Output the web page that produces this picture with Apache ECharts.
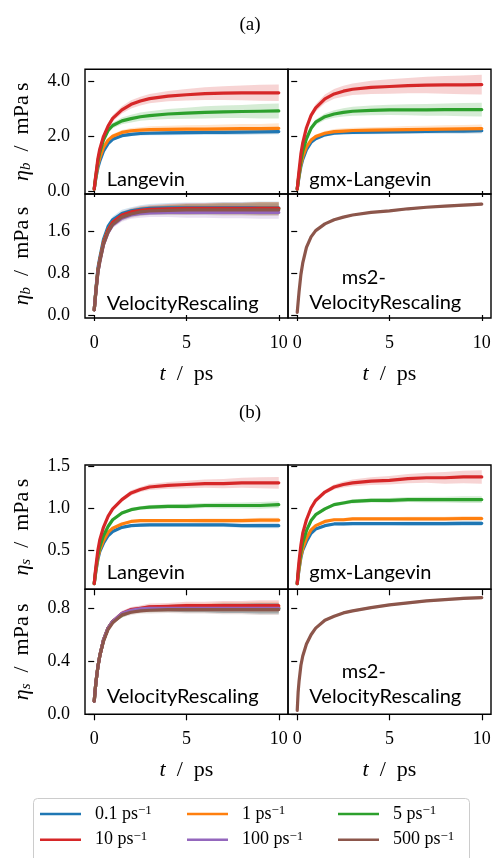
<!DOCTYPE html>
<html><head><meta charset="utf-8">
<script src="https://cdn.jsdelivr.net/npm/echarts@6/dist/echarts.min.js"></script>
<style>html,body{margin:0;padding:0;background:#fff}#c{width:494px;height:858px}</style>
</head><body><div id="c"></div>
<script>
// ---------------- data ----------------
const T = [0,0.05,0.1,0.2,0.3,0.5,0.75,1,1.5,2,2.5,3,4,5,6,7,8,9,10];
const xTicks = [0,5,10];
const aTopTicks = [0,2,4];
const aBotTicks = [0,0.8,1.6];
const bTopTicks = [0.5,1.0,1.5];
const bBotTicks = [0,0.4,0.8];
const legendNames = ['0.1','1','5','10','100','500'];

// (a) bulk viscosity, Langevin
const aLangBlue   = [0.07,0.30,0.50,0.85,1.08,1.45,1.72,1.88,2.01,2.06,2.09,2.10,2.11,2.12,2.13,2.13,2.14,2.15,2.16];
const aLangOrange = [0.07,0.32,0.55,0.95,1.20,1.58,1.85,1.99,2.13,2.19,2.21,2.23,2.24,2.25,2.25,2.26,2.27,2.27,2.28];
const aLangGreen  = [0.07,0.35,0.60,1.08,1.40,1.85,2.20,2.38,2.55,2.63,2.70,2.74,2.80,2.83,2.86,2.88,2.89,2.90,2.91];
const aLangRed    = [0.07,0.38,0.65,1.18,1.52,1.98,2.36,2.64,2.95,3.15,3.27,3.36,3.45,3.50,3.54,3.56,3.57,3.57,3.57];
const aLangBlueSd   = [0,0.01,0.01,0.02,0.03,0.04,0.05,0.05,0.06,0.06,0.07,0.07,0.08,0.08,0.09,0.09,0.10,0.10,0.10];
const aLangOrangeSd = [0,0.01,0.02,0.03,0.04,0.06,0.07,0.08,0.09,0.10,0.11,0.12,0.13,0.14,0.15,0.16,0.17,0.17,0.18];
const aLangGreenSd  = [0,0.01,0.02,0.04,0.05,0.07,0.09,0.10,0.12,0.14,0.15,0.16,0.18,0.20,0.22,0.23,0.24,0.26,0.27];
const aLangRedSd    = [0,0.01,0.02,0.04,0.06,0.08,0.10,0.11,0.13,0.15,0.16,0.17,0.19,0.21,0.23,0.25,0.27,0.29,0.30];
// (a) gmx-Langevin
const aGmxBlue   = [0.07,0.30,0.52,0.90,1.15,1.50,1.77,1.90,2.04,2.10,2.12,2.13,2.14,2.15,2.16,2.17,2.18,2.18,2.19];
const aGmxOrange = [0.07,0.33,0.56,0.97,1.25,1.60,1.85,1.98,2.10,2.16,2.18,2.20,2.21,2.22,2.23,2.24,2.25,2.26,2.27];
const aGmxGreen  = [0.07,0.36,0.62,1.10,1.45,1.90,2.28,2.50,2.70,2.80,2.86,2.90,2.93,2.95,2.95,2.95,2.96,2.96,2.96];
const aGmxRed    = [0.07,0.42,0.75,1.35,1.75,2.30,2.75,3.02,3.35,3.53,3.63,3.70,3.77,3.80,3.83,3.85,3.86,3.86,3.87];
const aGmxBlueSd   = [0,0.01,0.01,0.02,0.03,0.04,0.05,0.05,0.06,0.06,0.07,0.07,0.08,0.08,0.09,0.09,0.10,0.10,0.10];
const aGmxOrangeSd = [0,0.01,0.01,0.02,0.03,0.05,0.06,0.07,0.08,0.09,0.10,0.10,0.11,0.12,0.13,0.13,0.14,0.14,0.15];
const aGmxGreenSd  = [0,0.01,0.02,0.03,0.05,0.07,0.09,0.10,0.12,0.14,0.15,0.16,0.18,0.19,0.20,0.21,0.22,0.24,0.25];
const aGmxRedSd    = [0,0.01,0.02,0.04,0.06,0.09,0.11,0.13,0.16,0.18,0.20,0.21,0.24,0.26,0.28,0.30,0.32,0.34,0.36];
// (a) VelocityRescaling
const aVrBlue   = [0.10,0.32,0.53,0.90,1.10,1.45,1.70,1.83,1.95,2.00,2.03,2.05,2.06,2.06,2.06,2.06,2.06,2.06,2.06];
const aVrOrange = [0.10,0.30,0.50,0.86,1.06,1.40,1.64,1.78,1.91,1.97,2.00,2.02,2.03,2.03,2.04,2.04,2.04,2.05,2.05];
const aVrGreen  = [0.10,0.30,0.50,0.85,1.05,1.38,1.62,1.77,1.90,1.96,1.99,2.01,2.02,2.03,2.03,2.04,2.04,2.04,2.04];
const aVrRed    = [0.10,0.30,0.50,0.85,1.05,1.38,1.63,1.78,1.92,1.98,2.01,2.03,2.04,2.05,2.05,2.05,2.05,2.05,2.05];
const aVrPurple = [0.10,0.29,0.48,0.82,1.02,1.35,1.58,1.73,1.86,1.92,1.95,1.96,1.97,1.97,1.97,1.97,1.97,1.97,1.97];
const aVrBrown  = [0.10,0.29,0.48,0.82,1.02,1.35,1.59,1.74,1.88,1.94,1.98,2.00,2.01,2.02,2.02,2.02,2.02,2.02,2.02];
const aVrSd     = [0,0.01,0.02,0.03,0.04,0.05,0.06,0.06,0.07,0.07,0.08,0.08,0.09,0.10,0.10,0.11,0.11,0.12,0.12];
// (a) ms2-VelocityRescaling
const aMs2Brown = [0.05,0.25,0.45,0.78,1.00,1.30,1.50,1.62,1.75,1.83,1.88,1.92,1.97,2.00,2.04,2.07,2.09,2.11,2.13];
const aMs2Sd    = [0,0,0.005,0.01,0.01,0.01,0.01,0.015,0.015,0.015,0.02,0.02,0.02,0.02,0.025,0.025,0.025,0.03,0.03];

// (b) shear viscosity, Langevin
const bLangBlue   = [0.10,0.18,0.26,0.39,0.48,0.58,0.67,0.72,0.77,0.79,0.795,0.80,0.80,0.80,0.80,0.80,0.79,0.79,0.79];
const bLangOrange = [0.10,0.19,0.27,0.41,0.50,0.61,0.71,0.76,0.81,0.84,0.85,0.85,0.85,0.85,0.85,0.85,0.85,0.855,0.855];
const bLangGreen  = [0.10,0.20,0.29,0.44,0.54,0.67,0.78,0.86,0.94,0.98,1.00,1.01,1.02,1.02,1.03,1.03,1.03,1.03,1.04];
const bLangRed    = [0.10,0.22,0.32,0.50,0.62,0.77,0.90,0.99,1.10,1.18,1.22,1.25,1.27,1.28,1.29,1.29,1.30,1.30,1.30];
const bLangBlueSd   = [0,0,0.005,0.005,0.01,0.01,0.01,0.015,0.015,0.015,0.02,0.02,0.02,0.02,0.025,0.025,0.025,0.03,0.03];
const bLangOrangeSd = [0,0,0.005,0.005,0.01,0.01,0.01,0.015,0.015,0.015,0.02,0.02,0.02,0.02,0.025,0.025,0.025,0.03,0.03];
const bLangGreenSd  = [0,0,0.005,0.01,0.01,0.01,0.015,0.015,0.02,0.02,0.02,0.025,0.025,0.03,0.03,0.035,0.035,0.04,0.04];
const bLangRedSd    = [0,0,0.005,0.01,0.01,0.015,0.02,0.02,0.025,0.03,0.03,0.035,0.04,0.045,0.05,0.055,0.06,0.065,0.07];
// (b) gmx-Langevin
const bGmxBlue   = [0.10,0.19,0.27,0.41,0.50,0.60,0.70,0.75,0.79,0.81,0.81,0.815,0.815,0.815,0.815,0.815,0.815,0.817,0.817];
const bGmxOrange = [0.10,0.20,0.28,0.43,0.52,0.64,0.74,0.79,0.84,0.86,0.86,0.87,0.87,0.87,0.87,0.87,0.87,0.875,0.875];
const bGmxGreen  = [0.10,0.22,0.32,0.48,0.59,0.73,0.85,0.92,0.99,1.04,1.06,1.08,1.09,1.09,1.10,1.10,1.10,1.10,1.10];
const bGmxRed    = [0.10,0.25,0.37,0.56,0.70,0.86,1.00,1.09,1.19,1.25,1.28,1.30,1.32,1.33,1.35,1.36,1.36,1.37,1.37];
const bGmxBlueSd   = [0,0,0.005,0.005,0.01,0.01,0.01,0.015,0.015,0.015,0.02,0.02,0.02,0.02,0.025,0.025,0.025,0.03,0.03];
const bGmxOrangeSd = [0,0,0.005,0.005,0.01,0.01,0.01,0.015,0.015,0.015,0.02,0.02,0.02,0.02,0.025,0.025,0.025,0.03,0.03];
const bGmxGreenSd  = [0,0,0.005,0.01,0.01,0.01,0.015,0.015,0.02,0.02,0.02,0.025,0.025,0.03,0.03,0.035,0.035,0.04,0.04];
const bGmxRedSd    = [0,0,0.005,0.01,0.01,0.015,0.02,0.02,0.025,0.03,0.035,0.04,0.045,0.05,0.055,0.06,0.07,0.075,0.08];
// (b) VelocityRescaling
const bVrBlue   = [0.10,0.18,0.25,0.36,0.44,0.56,0.65,0.70,0.75,0.78,0.79,0.80,0.80,0.80,0.80,0.80,0.80,0.80,0.80];
const bVrOrange = [0.10,0.18,0.25,0.36,0.44,0.56,0.65,0.70,0.75,0.78,0.79,0.80,0.80,0.805,0.805,0.81,0.81,0.81,0.81];
const bVrGreen  = [0.10,0.18,0.25,0.36,0.44,0.56,0.65,0.70,0.75,0.78,0.79,0.795,0.80,0.80,0.80,0.80,0.80,0.80,0.80];
const bVrRed    = [0.10,0.18,0.25,0.36,0.44,0.56,0.65,0.70,0.76,0.79,0.80,0.81,0.815,0.82,0.82,0.82,0.82,0.82,0.82];
const bVrPurple = [0.10,0.18,0.25,0.36,0.44,0.56,0.65,0.70,0.76,0.785,0.795,0.80,0.80,0.80,0.80,0.80,0.80,0.80,0.80];
const bVrBrown  = [0.10,0.18,0.25,0.36,0.44,0.55,0.64,0.69,0.75,0.77,0.78,0.785,0.79,0.79,0.79,0.79,0.79,0.79,0.79];
const bVrSd     = [0,0,0.005,0.01,0.01,0.01,0.015,0.015,0.02,0.02,0.02,0.025,0.025,0.03,0.03,0.035,0.035,0.04,0.04];
// (b) ms2-VelocityRescaling
const bMs2Brown = [0.03,0.17,0.25,0.37,0.44,0.53,0.60,0.65,0.71,0.74,0.765,0.78,0.805,0.825,0.84,0.855,0.865,0.875,0.88];
const bMs2Sd    = [0,0,0,0.005,0.005,0.005,0.005,0.005,0.01,0.01,0.01,0.01,0.01,0.01,0.01,0.01,0.01,0.012,0.012];

// ---------------- layout / style ----------------
const COLORS = {'0.1':'#1f77b4','1':'#ff7f0e','5':'#2ca02c','10':'#d62728','100':'#9467bd','500':'#8c564b'};
function rgba(hex,a){const n=parseInt(hex.slice(1),16);return `rgba(${n>>16},${(n>>8)&255},${n&255},${a})`;}
const SERIF = 'Liberation Serif';
const L = 85, W = 203, L2 = 288;
const grids = [
  {left:L,  top:69.3,  width:W, height:124.7},
  {left:L2, top:69.3,  width:W, height:124.7},
  {left:L,  top:194,   width:W, height:124},
  {left:L2, top:194,   width:W, height:124},
  {left:L,  top:465,   width:W, height:124.3},
  {left:L2, top:465,   width:W, height:124.3},
  {left:L,  top:589.3, width:W, height:125},
  {left:L2, top:589.3, width:W, height:125}
].map(g=>Object.assign(g,{show:true,borderColor:'#000',borderWidth:1.4,backgroundColor:'transparent',containLabel:false,outerBoundsMode:'none'}));

const yRanges = [[-0.11,4.425],[-0.11,4.425],[-0.058,2.324],[-0.058,2.324],[0.032,1.512],[0.032,1.512],[0,0.943],[0,0.943]];
const yTicks = [aTopTicks,aTopTicks,aBotTicks,aBotTicks,bTopTicks,bTopTicks,bBotTicks,bBotTicks];
const yNames = ['b','b','b','b','s','s','s','s'];

const tickStyle = {show:true,inside:false,length:6,lineStyle:{color:'#000',width:1.2}};
const xAxes = grids.map((g,i)=>({
  gridIndex:i,type:'value',min:-0.5,max:10.5,
  axisLine:{show:false},splitLine:{show:false},
  axisTick:Object.assign({customValues:xTicks},tickStyle),
  axisLabel:{show:(i===2||i===3||i===6||i===7),customValues:xTicks,color:'#000',fontFamily:SERIF,fontSize:18,margin:16},
  name:(i===2||i===3||i===6||i===7)?'{it|t}{n|\u2002/\u2002ps}':'',
  nameLocation:'middle',nameGap:45,
  nameTextStyle:{color:'#000',fontFamily:SERIF,fontSize:22,rich:{it:{fontStyle:'italic',fontFamily:SERIF,fontSize:22,color:'#000'},n:{fontFamily:SERIF,fontSize:22,color:'#000'}}}
}));
const yAxes = grids.map((g,i)=>({
  gridIndex:i,type:'value',min:yRanges[i][0],max:yRanges[i][1],
  axisLine:{show:false},splitLine:{show:false},
  axisTick:Object.assign({customValues:yTicks[i]},tickStyle),
  axisLabel:{show:(i%2===0),customValues:yTicks[i],color:'#000',fontFamily:SERIF,fontSize:18,margin:15,formatter:v=>v.toFixed(1)},
  name:(i%2===0)?`{it|η}{sub|${yNames[i]}}{n|\u2002/\u2002mPa\u2009s}`:'',
  nameLocation:'middle',nameGap:51,nameRotate:90,
  nameTextStyle:{color:'#000',fontFamily:SERIF,fontSize:22,rich:{
    it:{fontStyle:'italic',fontFamily:SERIF,fontSize:22,lineHeight:24,color:'#000'},
    sub:{fontStyle:'italic',fontFamily:SERIF,fontSize:15,lineHeight:12,verticalAlign:'bottom',color:'#000'},
    n:{fontFamily:SERIF,fontSize:22,lineHeight:24,color:'#000'}}}
}));

const panels = [
  {grid:0,items:[['0.1',aLangBlue,aLangBlueSd],['1',aLangOrange,aLangOrangeSd],['5',aLangGreen,aLangGreenSd],['10',aLangRed,aLangRedSd]]},
  {grid:1,items:[['0.1',aGmxBlue,aGmxBlueSd],['1',aGmxOrange,aGmxOrangeSd],['5',aGmxGreen,aGmxGreenSd],['10',aGmxRed,aGmxRedSd]]},
  {grid:2,items:[['0.1',aVrBlue,aVrSd],['1',aVrOrange,aVrSd],['5',aVrGreen,aVrSd],['10',aVrRed,aVrSd],['100',aVrPurple,aVrSd],['500',aVrBrown,aVrSd]]},
  {grid:3,items:[['500',aMs2Brown,aMs2Sd]]},
  {grid:4,items:[['0.1',bLangBlue,bLangBlueSd],['1',bLangOrange,bLangOrangeSd],['5',bLangGreen,bLangGreenSd],['10',bLangRed,bLangRedSd]]},
  {grid:5,items:[['0.1',bGmxBlue,bGmxBlueSd],['1',bGmxOrange,bGmxOrangeSd],['5',bGmxGreen,bGmxGreenSd],['10',bGmxRed,bGmxRedSd]]},
  {grid:6,items:[['0.1',bVrBlue,bVrSd],['1',bVrOrange,bVrSd],['5',bVrGreen,bVrSd],['10',bVrRed,bVrSd],['100',bVrPurple,bVrSd],['500',bVrBrown,bVrSd]]},
  {grid:7,items:[['500',bMs2Brown,bMs2Sd]]}
];
const series = [];
panels.forEach((p)=>p.items.forEach(([name,mean,sd])=>{
  const c=COLORS[name];
  // error band: a polygon through (t, mean-sd) and (t, mean+sd), mapped by the axes
  const bandData = T.map((t,i)=>[t,mean[i]-sd[i],mean[i]+sd[i]]);
  series.push({type:'custom',name:'band',xAxisIndex:p.grid,yAxisIndex:p.grid,silent:true,animation:false,
    data:bandData,encode:{x:0,y:[1,2]},
    renderItem:function(params,api){
      if(params.dataIndexInside!==0) return null;
      const up=bandData.map(d=>api.coord([d[0],d[2]]));
      const lo=bandData.map(d=>api.coord([d[0],d[1]])).reverse();
      return {type:'polygon',shape:{points:up.concat(lo)},style:{fill:rgba(c,0.2),stroke:null}};
    }});
  series.push({type:'line',name:name,xAxisIndex:p.grid,yAxisIndex:p.grid,symbol:'none',showSymbol:false,silent:true,animation:false,
    data:T.map((t,i)=>[t,mean[i]]),lineStyle:{width:3.2,color:c,join:'round',cap:'round'},itemStyle:{color:c}});
}));

const legendCommon = {orient:'vertical',icon:'rect',itemWidth:41,itemHeight:2.5,itemGap:6.7,padding:0,selectedMode:false,top:804,
  formatter:n=>`{n|${n} ps}{s|\u22121}`,
  textStyle:{color:'#000',fontFamily:SERIF,fontSize:18,rich:{
    n:{fontFamily:SERIF,fontSize:18,lineHeight:20,padding:[0,0,0,9],color:'#000'},
    s:{fontFamily:SERIF,fontSize:13,lineHeight:13,verticalAlign:'top',color:'#000'}}}};
const legends = [
  Object.assign({},legendCommon,{left:40,data:[legendNames[0],legendNames[3]]}),
  Object.assign({},legendCommon,{left:187,data:[legendNames[1],legendNames[4]]}),
  Object.assign({},legendCommon,{left:338,data:[legendNames[2],legendNames[5]]})
];

const SANS = '20px Lato';
const notes = [
  ['Langevin',106.7,186.7],['VelocityRescaling',106.7,310.7],['gmx-Langevin',309.3,186.7],['ms2-',341.7,285],['VelocityRescaling',309.3,310],
  ['Langevin',106.7,579.3],['VelocityRescaling',106.7,704],['gmx-Langevin',309.3,580],['ms2-',341.7,678.3],['VelocityRescaling',309.3,703.3]
];
const graphic = [
  {type:'rect',shape:{x:33.5,y:798.5,width:436,height:80,r:4},style:{fill:'rgba(255,255,255,0.8)',stroke:'#cccccc',lineWidth:1},z:0},
  {type:'text',x:250,y:25,style:{text:'(a)',font:'19px '+SERIF,fill:'#000',align:'center',verticalAlign:'middle'}},
  {type:'text',x:250,y:413,style:{text:'(b)',font:'19px '+SERIF,fill:'#000',align:'center',verticalAlign:'middle'}}
].concat(notes.map(([t,x,y])=>({type:'text',x:x,y:y-7,z:10,style:{text:t,font:SANS,fill:'#000',align:'left',verticalAlign:'middle'}})));

const chart = echarts.init(document.getElementById('c'),null,{renderer:'canvas'});
chart.setOption({animation:false,backgroundColor:'#fff',grid:grids,xAxis:xAxes,yAxis:yAxes,series:series,legend:legends,graphic:graphic});
</script></body></html>
